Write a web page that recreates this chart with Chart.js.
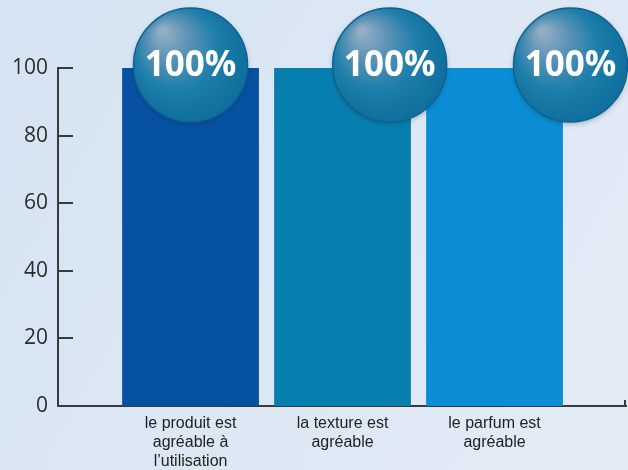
<!DOCTYPE html>
<html>
<head>
<meta charset="utf-8">
<script src="https://cdn.jsdelivr.net/npm/chart.js@4"></script>
<style>
  html, body { margin: 0; padding: 0; }
  body {
    width: 628px; height: 470px; overflow: hidden;
    background: linear-gradient(120deg, #d5e3f2 0%, #dbe7f4 45%, #e4ebf6 100%);
  }
  #wrap { position: relative; width: 628px; height: 470px; }
</style>
</head>
<body>
<div id="wrap"><canvas id="chart"></canvas></div>
<script>
(function () {
    const categories = [
        ['le produit est', 'agréable à', 'l\u2019utilisation'],
        ['la texture est', 'agréable'],
        ['le parfum est', 'agréable']
    ];
    const values = [100, 100, 100];
    const barColors = ['#0651a1', '#077fae', '#0a8dd4'];
    const bubbleLabels = ['100%', '100%', '100%'];
    const bubbleX = [1.0, 2.31, 3.5];   // in x-axis units
    const yTicks = [0, 20, 40, 60, 80, 100];

    const points = values.map((v, i) => ({ x: i + 1, y: v }));

    // small tick marks inside the plot, plus the right end tick of the x axis
    const innerTicks = {
        id: 'innerTicks',
        afterDraw(c) {
            const ctx = c.ctx, y = c.scales.y, a = c.chartArea;
            ctx.save();
            ctx.strokeStyle = '#3a3a3a';
            ctx.lineWidth = 2;
            yTicks.forEach(t => {
                const py = Math.round(y.getPixelForValue(t));
                if (t === 0) return;
                ctx.beginPath();
                ctx.moveTo(a.left, py);
                ctx.lineTo(a.left + 15, py);
                ctx.stroke();
            });
            ctx.beginPath();
            ctx.moveTo(a.right - 1, a.bottom);
            ctx.lineTo(a.right - 1, a.bottom - 6);
            ctx.stroke();
            ctx.restore();
        }
    };

    const bubbles = {
        id: 'bubbles',
        afterDatasetsDraw(c) {
            const ctx = c.ctx, xs = c.scales.x, ys = c.scales.y;
            const r = 57;
            bubbleX.forEach((bx, i) => {
                const cx = xs.getPixelForValue(bx);
                const cy = ys.getPixelForValue(values[i]) - 3;
                ctx.save();
                ctx.shadowColor = 'rgba(0,40,80,0.3)';
                ctx.shadowBlur = 5;
                ctx.shadowOffsetY = 2;
                const g = ctx.createRadialGradient(cx - r * 0.5, cy - r * 0.6, r * 0.05, cx - r * 0.1, cy - r * 0.1, r * 1.1);
                g.addColorStop(0, '#93aec4');
                g.addColorStop(0.3, '#5a92b6');
                g.addColorStop(0.65, '#1c7eaa');
                g.addColorStop(1, '#0f6f9e');
                ctx.beginPath();
                ctx.arc(cx, cy, r, 0, Math.PI * 2);
                ctx.fillStyle = g;
                ctx.fill();
                ctx.shadowColor = 'transparent';
                ctx.lineWidth = 1.5;
                ctx.strokeStyle = '#11628c';
                ctx.stroke();
                ctx.fillStyle = '#ffffff';
                ctx.font = 'bold 35px "Open Sans"';
                ctx.textAlign = 'center';
                ctx.textBaseline = 'middle';
                ctx.fillText(bubbleLabels[i], cx, cy + 1);
                ctx.restore();
            });
        }
    };

    new Chart(document.getElementById('chart'), {
        type: 'bar',
        data: {
            datasets: [{
                data: points,
                backgroundColor: barColors,
                borderWidth: 0,
                categoryPercentage: 1,
                barPercentage: 0.9
            }]
        },
        options: {
            responsive: true,
            maintainAspectRatio: false,
            animation: false,
            layout: { padding: { top: 68, right: 2, left: 0, bottom: 0 } },
            plugins: { legend: { display: false }, tooltip: { enabled: false } },
            scales: {
                x: {
                    type: 'linear',
                    offset: false,
                    min: 0.128,
                    max: 3.865,
                    afterBuildTicks: s => { s.ticks = categories.map((c, i) => ({ value: i + 1 })); },
                    afterFit: s => { s.height = 64; },
                    grid: { display: false, drawTicks: false },
                    border: { display: true, color: '#3a3a3a', width: 2 },
                    ticks: {
                        callback: v => categories[v - 1] || '',
                        color: '#222',
                        font: { family: '"Liberation Sans"', size: 16, lineHeight: 1.2 },
                        padding: 8,
                        maxRotation: 0,
                        autoSkip: false
                    }
                },
                y: {
                    min: 0,
                    max: 100,
                    afterBuildTicks: s => { s.ticks = yTicks.map(v => ({ value: v })); },
                    afterFit: s => { s.width = 58; },
                    grid: { display: false, drawTicks: false },
                    border: { display: true, color: '#3a3a3a', width: 2 },
                    ticks: {
                        color: '#2c2c2c',
                        font: { family: '"Open Sans"', size: 21 },
                        padding: 10
                    }
                }
            }
        },
        plugins: [innerTicks, bubbles]
    });
})();
</script>
</body>
</html>
